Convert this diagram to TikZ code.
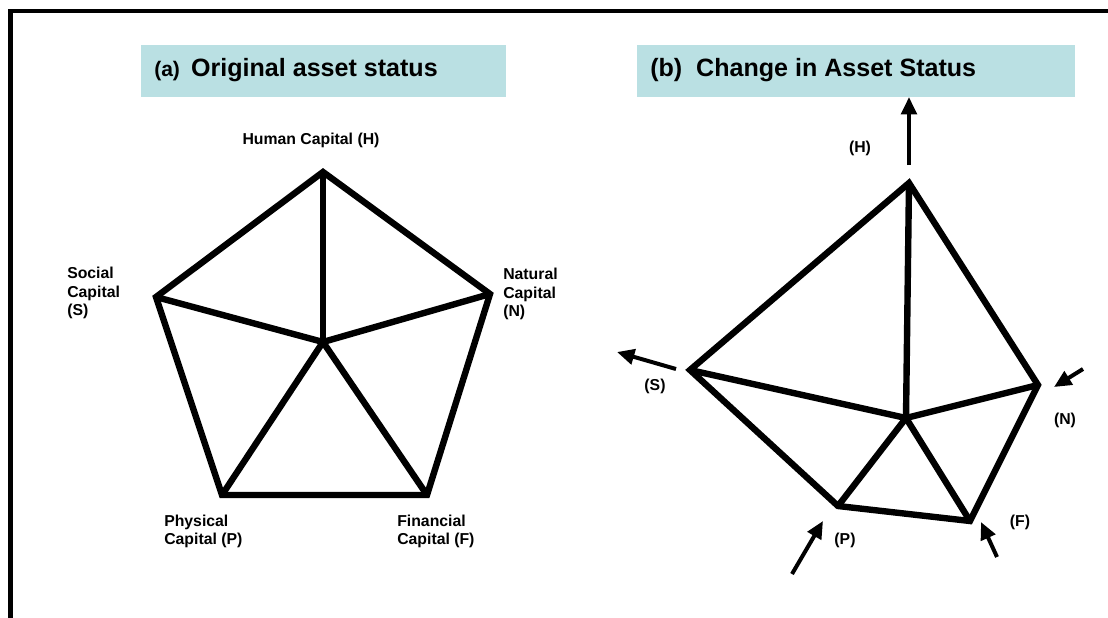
\documentclass[tikz,border=0pt]{standalone}
\usepackage{fontspec}
\setmainfont{Liberation Sans}
\usetikzlibrary{arrows.meta}
\definecolor{titlebg}{RGB}{186,224,227}
\tikzset{
  edge/.style={line width=4.8pt, line join=miter, line cap=butt},
  movearrow/.style={line width=3pt, -{Triangle[length=13pt,width=11.5pt]}},
  lbl/.style={font=\bfseries\fontsize{11.85}{13.9}\selectfont, inner sep=0pt, align=left},
  titlebox/.style={fill=titlebg, draw=none, inner sep=0pt},
  titletext/.style={font=\bfseries\fontsize{18.8}{22}\selectfont, inner sep=0pt, anchor=base west},
}
\begin{document}
\begin{tikzpicture}[x=0.75pt,y=-0.75pt]
\useasboundingbox (0,0) rectangle (1108,618);
\clip (0,0) rectangle (1108,618);
\fill[white] (0,0) rectangle (1108,618);
% frame
\draw[line width=3.4pt] (10.5,640) -- (10.5,11) -- (1130,11);

% title boxes
\node[titlebox, minimum width=273.75pt, minimum height=39pt, anchor=north west] (ta) at (141,45) {};
\node[titletext] (tat) at (154,76) {{\fontsize{15.8}{18}\selectfont (a)}\ \,Original asset status};
\node[titlebox, minimum width=328.5pt, minimum height=39pt, anchor=north west] (tb) at (637,45) {};
\node[titletext] (tbt) at (650,76) {(b)\ \ Change in Asset Status};

% panel (a)
\coordinate (aH) at (323,172);
\coordinate (aS) at (156,297);
\coordinate (aN) at (490,294);
\coordinate (aP) at (222,495);
\coordinate (aF) at (427,495);
\coordinate (aC) at (323,342);
\draw[edge] (aH) -- (aN) -- (aF) -- (aP) -- (aS) -- cycle;
\draw[edge] (aC) -- (aH);
\draw[edge] (aC) -- (aS);
\draw[edge] (aC) -- (aN);
\draw[edge] (aC) -- (aP);
\draw[edge] (aC) -- (aF);

\node[lbl, anchor=north] (laH) at (311,132.5) {Human Capital (H)};
\node[lbl, anchor=north west] (laS) at (67,267) {Social\\Capital\\(S)};
\node[lbl, anchor=north west] (laN) at (503,268) {Natural\\Capital\\(N)};
\node[lbl, anchor=north west] (laP) at (164,514.5) {Physical\\Capital (P)};
\node[lbl, anchor=north west] (laF) at (397,514.5) {Financial\\Capital (F)};

% panel (b)
\coordinate (bH) at (909,183);
\coordinate (bS) at (690,370);
\coordinate (bN) at (1038,385);
\coordinate (bC) at (906,418);
\coordinate (bP) at (838,506);
\coordinate (bF) at (970,521);
\draw[edge] (bH) -- (bN) -- (bF) -- (bP) -- (bS) -- cycle;
\draw[edge] (bC) -- (bH);
\draw[edge] (bC) -- (bS);
\draw[edge] (bC) -- (bN);
\draw[edge] (bC) -- (bP);
\draw[edge] (bC) -- (bF);

\node[lbl] (lbH) at (860,148) {(H)};
\node[lbl] (lbS) at (655,386) {(S)};
\node[lbl] (lbN) at (1065,420) {(N)};
\node[lbl] (lbP) at (845,540) {(P)};
\node[lbl] (lbF) at (1020,522) {(F)};

% arrows
\coordinate (hA0) at (909,165); \coordinate (hA1) at (909,97);
\coordinate (sA0) at (676,369); \coordinate (sA1) at (617,352);
\coordinate (nA0) at (1083,369); \coordinate (nA1) at (1054,387);
\coordinate (pA0) at (792,574); \coordinate (pA1) at (823,521);
\coordinate (fA0) at (997,557); \coordinate (fA1) at (981,522);
\draw[movearrow] (hA0) -- (hA1);
\draw[movearrow] (sA0) -- (sA1);
\draw[movearrow] (nA0) -- (nA1);
\draw[movearrow] (pA0) -- (pA1);
\draw[movearrow] (fA0) -- (fA1);
\end{tikzpicture}
\end{document}
